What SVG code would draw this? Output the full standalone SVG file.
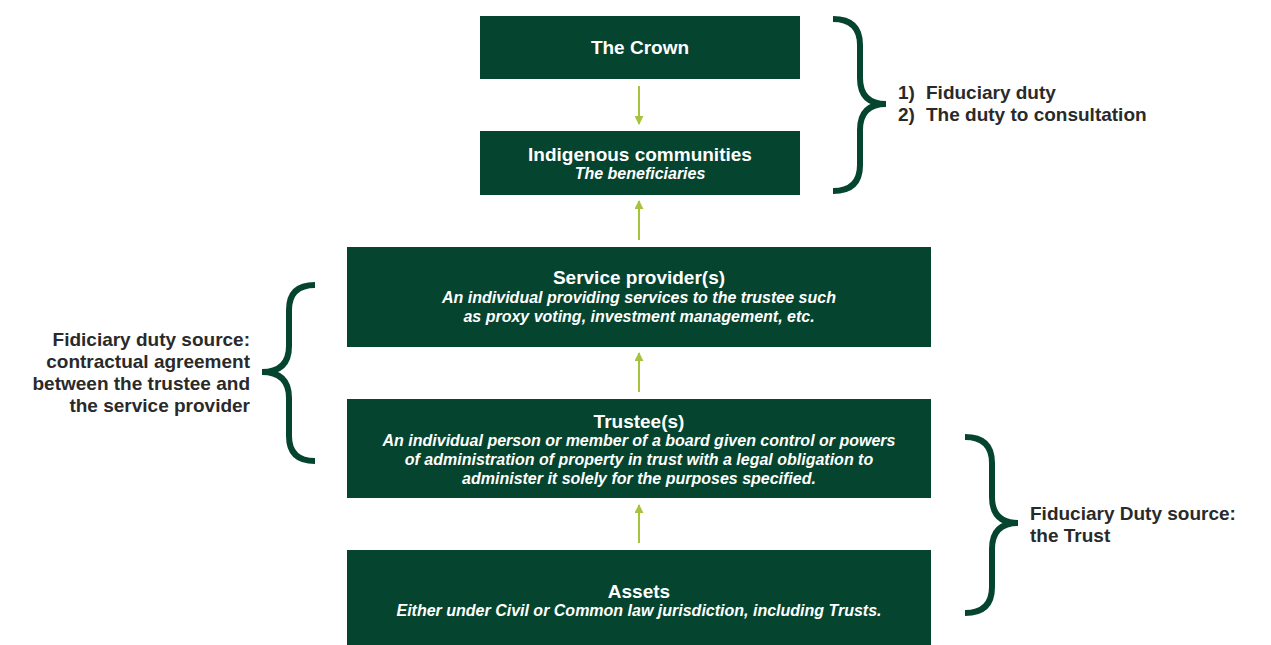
<svg xmlns="http://www.w3.org/2000/svg" width="1271" height="645" viewBox="0 0 1271 645">
<style>
.box{fill:#05442f}
.t{font-family:"Liberation Sans",Arial,sans-serif;font-weight:bold;font-size:19px;fill:#ffffff;text-anchor:middle}
.i{font-family:"Liberation Sans",Arial,sans-serif;font-weight:bold;font-style:italic;font-size:16px;fill:#ffffff;text-anchor:middle}
.lbl{font-family:"Liberation Sans",Arial,sans-serif;font-weight:bold;font-size:19px;fill:#2a2a2a}
.brace{fill:none;stroke:#05442f;stroke-width:6;stroke-linecap:butt}
.arr{stroke:#a5c33c;stroke-width:2;fill:none}
</style>
<defs>
<marker id="ah" viewBox="0 0 10 10" refX="9" refY="5" markerWidth="4.5" markerHeight="4.5" orient="auto" markerUnits="strokeWidth">
<path d="M0,0 L10,5 L0,10 z" fill="#a5c33c"/>
</marker>
</defs>
<rect width="1271" height="645" fill="#ffffff"/>
<g id="crown"><rect class="box" x="480" y="16" width="320" height="63"/><text class="t" x="640" y="54">The Crown</text></g>
<g id="indigenous"><rect class="box" x="480" y="131" width="320" height="64"/><text class="t" x="640" y="161">Indigenous communities</text><text class="i" x="640" y="179">The beneficiaries</text></g>
<g id="service"><rect class="box" x="347" y="247" width="584" height="100"/><text class="t" x="639" y="284">Service provider(s)</text><text class="i" x="639" y="303">An individual providing services to the trustee such</text><text class="i" x="639" y="322">as proxy voting, investment management, etc.</text></g>
<g id="trustee"><rect class="box" x="347" y="399" width="584" height="99"/><text class="t" x="639" y="428">Trustee(s)</text><text class="i" x="639" y="446">An individual person or member of a board given control or powers</text><text class="i" x="639" y="465">of administration of property in trust with a legal obligation to</text><text class="i" x="639" y="484">administer it solely for the purposes specified.</text></g>
<g id="assets"><rect class="box" x="347" y="550" width="584" height="95"/><text class="t" x="639" y="598">Assets</text><text class="i" x="639" y="616">Either under Civil or Common law jurisdiction, including Trusts.</text></g>
<g id="connectors">
<line class="arr" x1="639" y1="86" x2="639" y2="124" marker-end="url(#ah)"/>
<line class="arr" x1="639" y1="240" x2="639" y2="201" marker-end="url(#ah)"/>
<line class="arr" x1="639" y1="392" x2="639" y2="353" marker-end="url(#ah)"/>
<line class="arr" x1="639" y1="543" x2="639" y2="505" marker-end="url(#ah)"/>
</g>
<g id="brace-top"><path class="brace" d="M833,19 Q860,19 860,45 L860,78 Q860,104 886,104 Q860,104 860,130 L860,165 Q860,191 833,191"/>
<text class="lbl" x="898" y="99">1)</text><text class="lbl" x="926" y="99">Fiduciary duty</text>
<text class="lbl" x="898" y="121">2)</text><text class="lbl" x="926" y="121">The duty to consultation</text></g>
<g id="brace-left"><path class="brace" d="M315,285 Q289,285 289,310 L289,346 Q289,372 262,372 Q289,372 289,398 L289,436 Q289,461 315,461"/>
<text class="lbl" text-anchor="end" x="250" y="346">Fidiciary duty source:</text>
<text class="lbl" text-anchor="end" x="250" y="368">contractual agreement</text>
<text class="lbl" text-anchor="end" x="250" y="390">between the trustee and</text>
<text class="lbl" text-anchor="end" x="250" y="412">the service provider</text></g>
<g id="brace-bottom"><path class="brace" d="M965,437 Q992,437 992,463 L992,497 Q992,523 1018,523 Q992,523 992,549 L992,587 Q992,613 965,613"/>
<text class="lbl" x="1030" y="520">Fiduciary Duty source:</text>
<text class="lbl" x="1030" y="542">the Trust</text></g>
</svg>
